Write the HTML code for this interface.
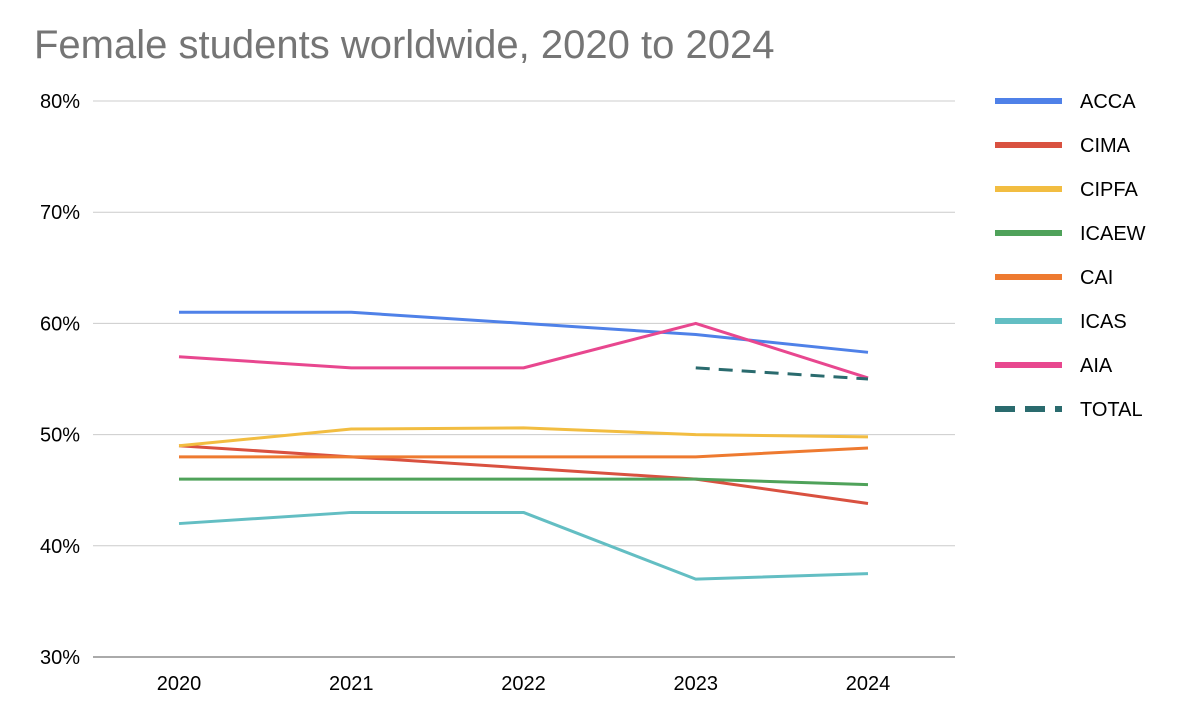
<!DOCTYPE html>
<html><head><meta charset="utf-8"><style>
body{margin:0;background:#fff;font-family:"Liberation Sans",Arial,sans-serif;}
svg text{font-family:"Liberation Sans",Arial,sans-serif;}
</style></head><body>
<svg id="chart" width="1194" height="722">
<text x="34" y="58" font-size="40" fill="#757575">Female students worldwide, 2020 to 2024</text>
<g id="grid"></g><g id="series"></g><g id="legend"></g>
</svg>
<script>
const years = ["2020","2021","2022","2023","2024"];
const yTicks = [30,40,50,60,70,80];
const seriesNames = ["ACCA","CIMA","CIPFA","ICAEW","CAI","ICAS","AIA","TOTAL"];
const acca = [61,61,60,59,57.4];
const cima = [49,48,47,46,43.8];
const cipfa = [49,50.5,50.6,50,49.8];
const icaew = [46,46,46,46,45.5];
const cai = [48,48,48,48,48.8];
const icas = [42,43,43,37,37.5];
const aia = [57,56,56,60,55.1];
const total = [null,null,null,56,55];
const colors = ["#4f81e8","#d95140","#f2bd41","#4fa25a","#ee7a30","#63bec3","#e8478f","#2a6b6e"];
const allSeries=[acca,cima,cipfa,icaew,cai,icas,aia,total];
const NS="http://www.w3.org/2000/svg";
const x0=93,x1=955,yTop=101,yBot=657;
function xs(i){return 179+i*(868-179)/(years.length-1);}
function ys(v){return yBot-(v-30)/(80-30)*(yBot-yTop);}
function mk(t,a,p){const e=document.createElementNS(NS,t);for(const k in a)e.setAttribute(k,a[k]);p.appendChild(e);return e;}
const grid=document.getElementById('grid');
yTicks.forEach(v=>{
 const l=mk('line',{x1:x0,x2:x1,y1:ys(v),y2:ys(v),stroke:v==30?'#555':'#ccc','stroke-width':1},grid);
 
 
 const t=mk('text',{x:80,y:ys(v)+7,'text-anchor':'end','font-size':20,fill:'#000'},grid);t.textContent=v+'%';
 
 
});
years.forEach((y,i)=>{
 const t=mk('text',{x:xs(i),y:690,'text-anchor':'middle','font-size':20,fill:'#000'},grid);t.textContent=y;
 
 
});
const sg=document.getElementById('series');
allSeries.forEach((d,s)=>{
 const pts=[];d.forEach((v,i)=>{if(v!=null)pts.push(xs(i)+','+ys(v));});
 const p=mk('polyline',{points:pts.join(' '),fill:'none',stroke:colors[s],'stroke-width':3,'stroke-linejoin':'round'},sg);
 if(s==7)p.setAttribute('stroke-dasharray','14,9');
 
 
});
const lg=document.getElementById('legend');
seriesNames.forEach((n,i)=>{
 const y=101+i*44;
 const l=mk('line',{x1:995,x2:1062,y1:y,y2:y,stroke:colors[i],'stroke-width':6},lg);
 if(i==7)l.setAttribute('stroke-dasharray','20,10');
 
 
 const t=mk('text',{x:1080,y:y+7,'font-size':20,fill:'#000'},lg);t.textContent=n;
 
 
});
</script>
</body></html>
